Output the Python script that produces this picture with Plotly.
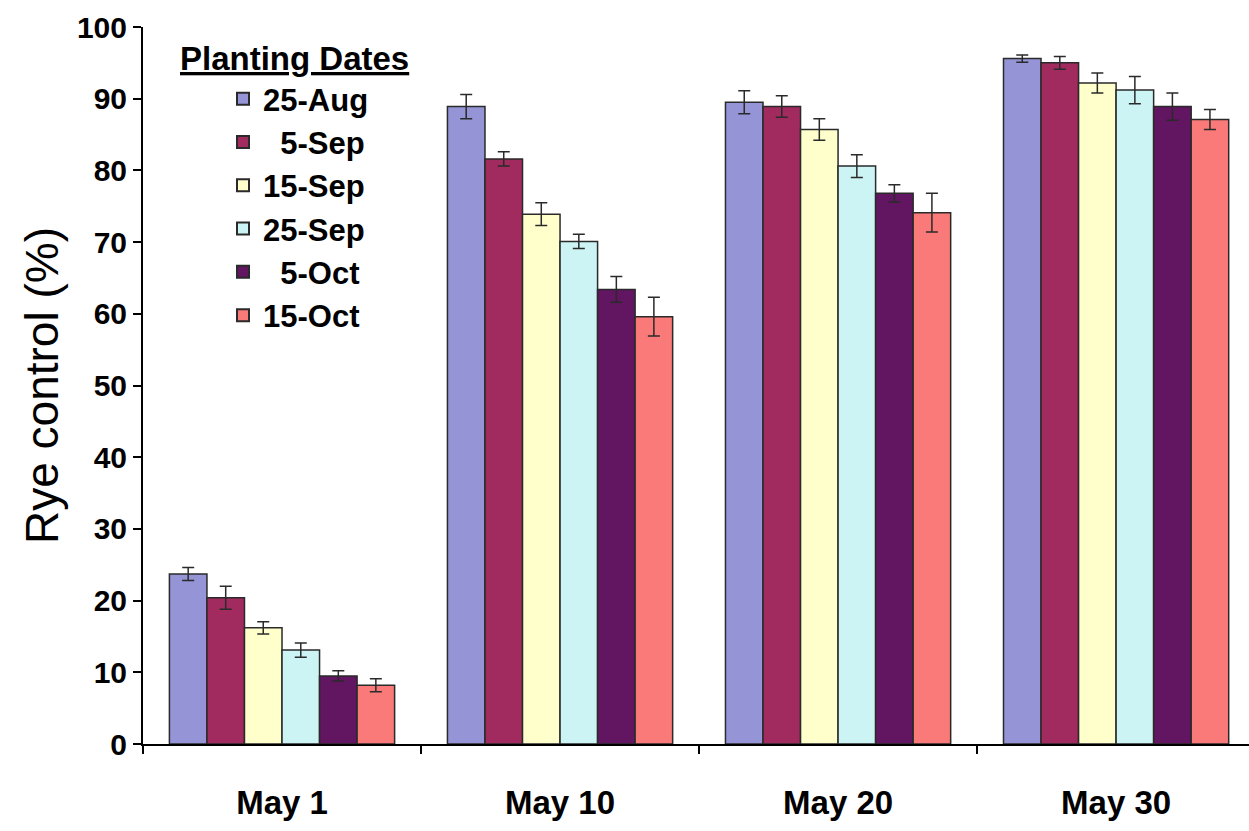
import plotly.graph_objects as go

# Harvest / termination dates on the x axis
categories = ["May 1", "May 10", "May 20", "May 30"]

# Planting dates (legend entries)
planting_dates = ["25-Aug", "\u20075-Sep", "15-Sep", "25-Sep", "\u20075-Oct", "15-Oct"]

# Rye control (%) per planting date, one value per category
control_25aug = [23.7, 88.9, 89.5, 95.6]
control_5sep = [20.4, 81.6, 88.9, 95.0]
control_15sep = [16.2, 73.9, 85.7, 92.2]
control_25sep = [13.1, 70.1, 80.6, 91.2]
control_5oct = [9.5, 63.4, 76.8, 88.9]
control_15oct = [8.2, 59.6, 74.1, 87.1]

# Standard errors
se_25aug = [0.9, 1.7, 1.6, 0.5]
se_5sep = [1.6, 1.0, 1.5, 0.9]
se_15sep = [0.85, 1.6, 1.5, 1.4]
se_25sep = [1.0, 1.0, 1.6, 1.9]
se_5oct = [0.7, 1.8, 1.2, 1.9]
se_15oct = [0.9, 2.7, 2.7, 1.4]

values = [control_25aug, control_5sep, control_15sep, control_25sep, control_5oct, control_15oct]
errors = [se_25aug, se_5sep, se_15sep, se_25sep, se_5oct, se_15oct]
colors = ["#9494D6", "#A12A5E", "#FFFFCC", "#CCF4F4", "#621560", "#F97A78"]

FONT = "Liberation Sans, Arial, sans-serif"
L, T, W, H = 143, 27, 1249 - 143, 831 - 27 - 87

fig = go.Figure()
for name, vals, errs, col in zip(planting_dates, values, errors, colors):
    fig.add_trace(go.Bar(
        x=categories,
        y=vals,
        name=name,
        marker=dict(color=col, line=dict(color="#2a2a2a", width=1.5)),
        error_y=dict(type="data", array=errs, visible=True,
                     color="#2a2a2a", thickness=1.5, width=6),
    ))

fig.update_layout(
    width=1249,
    height=831,
    margin=dict(l=L, r=0, t=T, b=87, autoexpand=False),
    paper_bgcolor="white",
    plot_bgcolor="white",
    barmode="group",
    bargap=0.19,
    bargroupgap=0,
    font=dict(family=FONT, color="black"),
    showlegend=True,
    legend=dict(
        x=(223 - L) / W, y=1 - (72 - T) / H,
        xanchor="left", yanchor="top",
        bgcolor="rgba(0,0,0,0)",
        font=dict(family=FONT, size=31, color="black", weight="bold"),
        itemsizing="constant",
    ),
    xaxis=dict(
        type="category",
        range=[-0.5, 3.478],
        showline=True, linecolor="black", linewidth=2,
        ticks="outside", ticklen=8, tickwidth=2, tickcolor="black",
        tickson="boundaries",
        ticklabelstandoff=28,
        tickfont=dict(family=FONT, size=33, color="black", weight="bold"),
        showgrid=False, zeroline=False,
    ),
    yaxis=dict(
        range=[0, 100],
        tickvals=[0, 10, 20, 30, 40, 50, 60, 70, 80, 90, 100],
        showline=True, linecolor="black", linewidth=2,
        ticks="outside", ticklen=8, tickwidth=2, tickcolor="black",
        tickfont=dict(family=FONT, size=30, color="black", weight="bold"),
        showgrid=False, zeroline=False,
        title=dict(text="Rye control (%)",
                   font=dict(family=FONT, size=46, color="black"),
                   standoff=4),
    ),
    annotations=[dict(
        xref="paper", yref="paper",
        x=(178 - L) / W, y=1 - (58 - T) / H,
        xanchor="left", yanchor="middle",
        text="<b><u>Planting Dates</u></b>",
        showarrow=False,
        font=dict(family=FONT, size=33, color="black"),
    )],
)

fig.write_html("out.html")
